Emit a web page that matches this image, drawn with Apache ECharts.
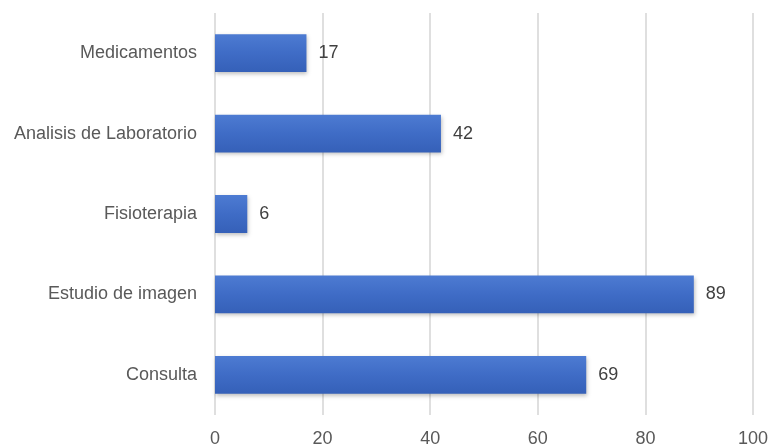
<!DOCTYPE html>
<html>
<head>
<meta charset="utf-8">
<script src="https://cdn.jsdelivr.net/npm/echarts@6/dist/echarts.min.js"></script>
<style>html,body{margin:0;padding:0;background:#fff;}#c{width:772px;height:447px;}</style>
</head>
<body>
<div id="c"></div>
<script>
const categories = ['Consulta', 'Estudio de imagen', 'Fisioterapia', 'Analisis de Laboratorio', 'Medicamentos'];
const values = [69, 89, 6, 42, 17];
const xTicks = { min: 0, max: 100, interval: 20 };

const chart = echarts.init(document.getElementById('c'), null, { renderer: 'canvas' });
chart.setOption({
  backgroundColor: '#ffffff',
  animation: false,
  grid: { left: 215, right: 19, top: 13, bottom: 32, containLabel: false, outerBoundsMode: 'none' },
  xAxis: {
    type: 'value',
    min: xTicks.min, max: xTicks.max, interval: xTicks.interval,
    axisLine: { show: false },
    axisTick: { show: false },
    splitLine: { show: true, lineStyle: { color: '#d4d4d4', width: 1.5 } },
    axisLabel: { margin: 15, color: '#595959', fontFamily: 'Liberation Sans', fontSize: 18 }
  },
  yAxis: {
    type: 'category',
    data: categories,
    axisLine: { show: false },
    axisTick: { show: false },
    axisLabel: { margin: 18, color: '#595959', fontFamily: 'Liberation Sans', fontSize: 18 }
  },
  series: [{
    type: 'bar',
    data: values,
    barWidth: '47%',
    itemStyle: {
      color: new echarts.graphic.LinearGradient(0, 0, 0, 1, [
        { offset: 0, color: '#4d7bd2' },
        { offset: 0.5, color: '#3f6cc6' },
        { offset: 1, color: '#3560b8' }
      ]),
      shadowColor: 'rgba(0,0,0,0.25)',
      shadowBlur: 4,
      shadowOffsetY: 2,
      shadowOffsetX: 1
    },
    label: {
      show: true,
      position: 'right',
      distance: 12,
      color: '#404040',
      fontFamily: 'Liberation Sans',
      fontSize: 18
    }
  }]
});
</script>
</body>
</html>
